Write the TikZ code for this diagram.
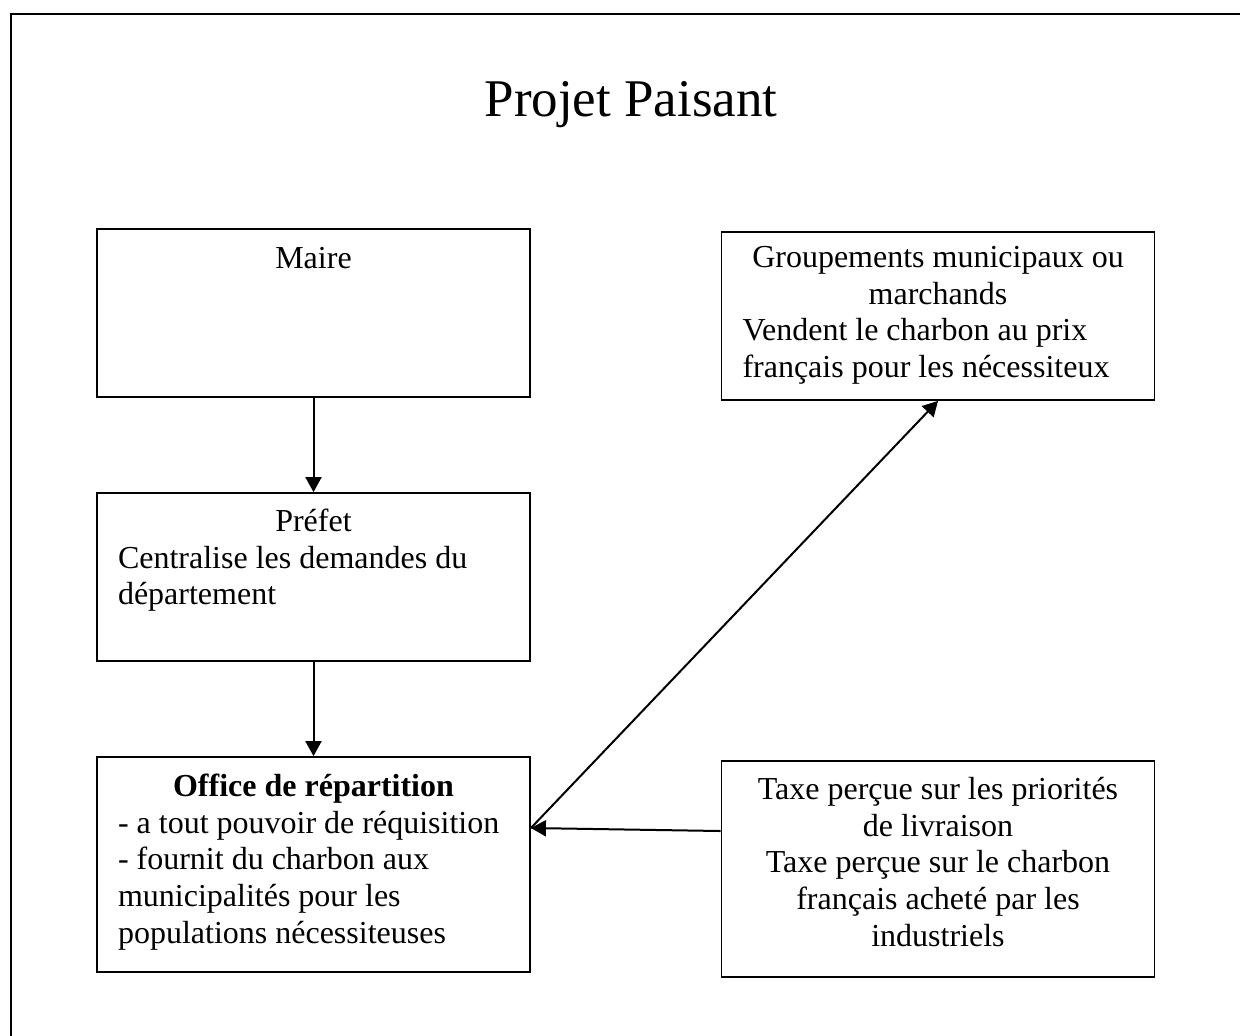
\documentclass[tikz,border=0pt]{standalone}
\usepackage{fontspec}
\setmainfont{Liberation Serif}
\usetikzlibrary{positioning, arrows.meta}
\tikzset{
    boite/.style={draw, rectangle, line width=0.9pt, inner sep=0pt, minimum width=216.5pt},
    texte/.style={anchor=north, inner sep=0pt, text width=195.5pt, font=\fontsize{16}{18.35}\selectfont},
    fleche/.style={-{Triangle[length=7.5pt, width=8pt]}, line width=1pt},
}
\begin{document}
\begin{tikzpicture}[x=0.5pt, y=-0.5pt]
    \useasboundingbox (0,0) rectangle (1240,1035);
    \clip (0,0) rectangle (1240,1035);
    % cadre
    \draw[line width=1.1pt] (11,1060) -- (11,14) -- (1260,14);
    \node[anchor=base, font=\fontsize{26.5}{30}\selectfont] (titre) at (631,116) {Projet Paisant};

    % colonne de gauche
    \node[boite, minimum height=84pt] (maire) at (313.5,313) {};
    \node[boite, minimum height=84pt] (prefet) at (313.5,577) {};
    \node[boite, minimum height=107.5pt] (office) at (313.5,864.5) {};
    % colonne de droite
    \node[boite, minimum height=84pt] (groupe) at (938,316) {};
    \node[boite, minimum height=108pt] (taxe) at (938,869) {};

    \node[texte, align=flush center, below=7.15pt of maire.north] (maireT) {\strut Maire};
    \node[texte, align=flush left, below=6.65pt of prefet.north] (prefetT) {\makebox[\linewidth]{\strut Préfet}\\
        Centralise les demandes du\\
        département};
    \node[texte, align=flush left, below=7.15pt of office.north] (officeT) {\makebox[\linewidth]{\strut\textbf{Office de répartition}}\\
        - a tout pouvoir de réquisition\\
        - fournit du charbon aux\\
        municipalités pour les\\
        populations nécessiteuses};
    \node[texte, align=flush left, below=5.15pt of groupe.north] (groupeT) {\makebox[\linewidth]{\strut Groupements municipaux ou}\\
        \makebox[\linewidth]{marchands}\\
        Vendent le charbon au prix\\
        français pour les nécessiteux};
    \node[texte, align=flush center, below=6.65pt of taxe.north] (taxeT) {\strut Taxe perçue sur les priorités\\
        de livraison\\
        Taxe perçue sur le charbon\\
        français acheté par les\\
        industriels};

    \coordinate (jonction) at ([yshift=18.25pt]office.east);
    \coordinate (depart) at ([yshift=19pt]taxe.west);

    \draw[fleche] (maire.south) -- (prefet.north);
    \draw[fleche] (prefet.south) -- (office.north);
    \draw[fleche] (depart) -- (jonction);
    \draw[fleche] (jonction) -- (groupe.south);
\end{tikzpicture}
\end{document}
